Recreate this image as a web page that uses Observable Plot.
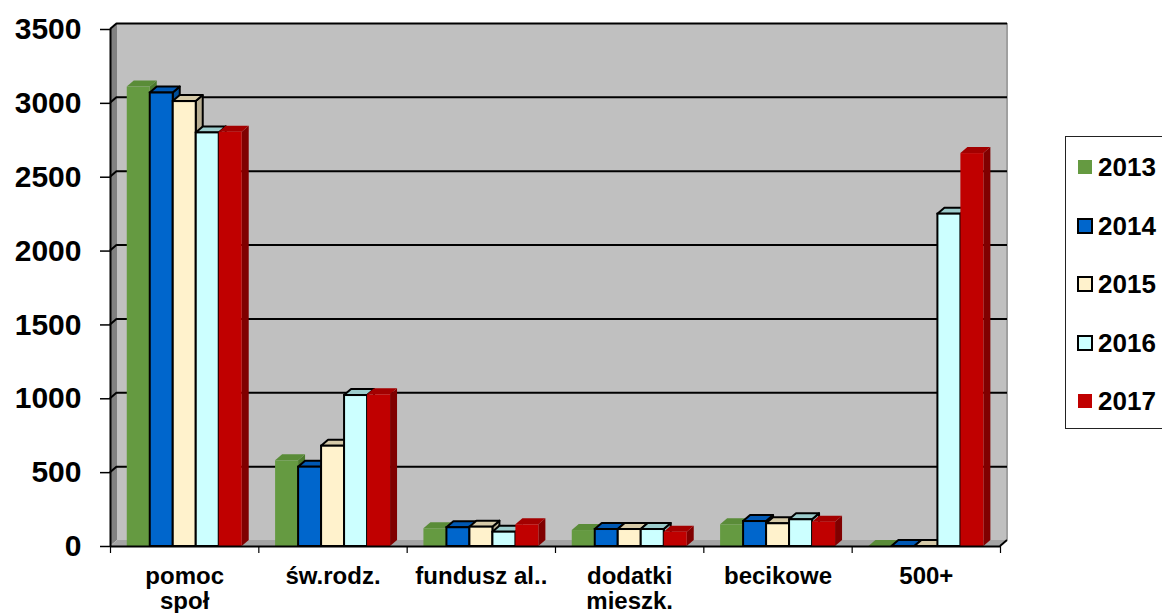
<!DOCTYPE html>
<html><head><meta charset="utf-8">
<script src="https://cdn.jsdelivr.net/npm/d3@7"></script>
<script src="https://cdn.jsdelivr.net/npm/@observablehq/plot@0.6"></script>
<style>
body{margin:0;background:#fff;font-family:Arial,"Liberation Sans",sans-serif;}
#wrap{position:relative;width:1162px;height:613px;overflow:hidden;}
#legend{position:absolute;left:1065px;top:136px;width:130px;height:293px;border:1.5px solid #222;box-sizing:border-box;background:#fff;}
.item{position:absolute;left:12px;display:flex;align-items:center;font-weight:bold;font-size:26px;line-height:1;color:#000;}
.sw{width:14px;height:14px;box-sizing:border-box;margin-right:6px;}
</style></head>
<body><div id="wrap"><div id="chart"></div><div id="legend"></div></div>
<script>
// ---- data ----
const categories = ["pomoc\nspoł", "św.rodz.", "fundusz al..", "dodatki\nmieszk.", "becikowe", "500+"];
const years = ["2013", "2014", "2015", "2016", "2017"];
const v2013 = [3110, 580, 120, 108, 147, 0];
const v2014 = [3070, 537, 127, 115, 169, 0];
const v2015 = [3012, 679, 131, 115, 154, 0];
const v2016 = [2800, 1022, 97, 115, 181, 2250];
const v2017 = [2805, 1027, 147, 97, 165, 2660];
const yTicks = [0, 500, 1000, 1500, 2000, 2500, 3000, 3500];

// ---- styles ----
const frontColors = ["#659a41", "#0066cc", "#fff2cc", "#ccffff", "#c00000"];
const topColors   = ["#5a8c38", "#0058b3", "#d6caa8", "#9ccccc", "#a30000"];
const sideColors  = ["#4c7a2e", "#004d99", "#b8ae92", "#8fbfbf", "#800000"];
const outlined    = [false, true, true, true, false];
const DX = 7, DY = -6;            // 3-D depth in pixels
const GROUP_OFFSET = 0.113, BAR_W = 0.155;

const series = [v2013, v2014, v2015, v2016, v2017];
const rows = [];
series.forEach((vals, j) => vals.forEach((v, i) => rows.push({
  category: categories[i], year: years[j], i, j, value: v,
  x1: i + GROUP_OFFSET + j * BAR_W, x2: i + GROUP_OFFSET + (j + 1) * BAR_W
})));

const walls = (index, {x, y}) => {
  const g = d3.create("svg:g");
  const L = x(0), R = x(categories.length), T = y(3500), B = y(0);
  g.append("rect").attr("x", L + DX).attr("y", T + DY).attr("width", R - L).attr("height", B - T).attr("fill", "#c0c0c0");
  g.append("path").attr("d", `M${L},${T}L${L + DX},${T + DY}L${L + DX},${B + DY}L${L},${B}Z`).attr("fill", "#808080");
  g.append("path").attr("d", `M${L},${B}L${L + DX},${B + DY}L${R + DX},${B + DY}L${R},${B}Z`).attr("fill", "#a4a4a4");
  yTicks.filter(v => v > 0).forEach(v =>
    g.append("path").attr("d", `M${L},${y(v)}l${DX},${DY}`).attr("stroke", "#000").attr("stroke-width", 2).attr("fill", "none"));
  g.append("line").attr("x1", R + DX).attr("x2", R + DX).attr("y1", T + DY).attr("y2", B + DY).attr("stroke", "#a0a0a0").attr("stroke-width", 2);
  return g.node();
};

const floorEdge = (index, {x, y}) => {
  const g = d3.create("svg:g");
  const R = x(categories.length), B = y(0);
  g.append("path").attr("d", `M${R},${B}l${DX},${DY}`).attr("stroke", "#000").attr("stroke-width", 2).attr("fill", "none");
  return g.node();
};

const faces = (j) => (index, {x, y}) => {
  const g = d3.create("svg:g");
  rows.filter(r => r.j === j).forEach(r => {
    const X1 = x(r.x1), X2 = x(r.x2), Y = y(r.value), Y0 = y(0);
    const st = outlined[j] ? "#000" : "none";
    g.append("path").attr("d", `M${X2},${Y}L${X2 + DX},${Y + DY}L${X2 + DX},${Y0 + DY}L${X2},${Y0}Z`)
      .attr("fill", sideColors[j]).attr("stroke", st).attr("stroke-width", 2).attr("stroke-linejoin", "round");
    g.append("path").attr("d", `M${X1},${Y}L${X1 + DX},${Y + DY}L${X2 + DX},${Y + DY}L${X2},${Y}Z`)
      .attr("fill", topColors[j]).attr("stroke", st).attr("stroke-width", 2).attr("stroke-linejoin", "round");
  });
  return g.node();
};

const marks = [walls, Plot.ruleY(yTicks.filter(v => v > 0), {dx: DX, dy: DY, stroke: "#000", strokeWidth: 2})];
years.forEach((yr, j) => {
  marks.push(faces(j));
  marks.push(Plot.rect(rows.filter(r => r.j === j), {
    x1: "x1", x2: "x2", y1: () => 0, y2: "value",
    fill: frontColors[j], stroke: outlined[j] ? "#000" : "none", strokeWidth: 2
  }));
});
marks.push(
  Plot.ruleX([0], {stroke: "#000", strokeWidth: 2}),
  Plot.ruleY([0], {stroke: "#000", strokeWidth: 2}),
  floorEdge,
  Plot.axisY({ticks: yTicks, tickSize: 10, tickPadding: 19, fontSize: 30, tickFormat: d3.format("d"), strokeWidth: 1.5, label: null}),
  Plot.axisX({ticks: d3.range(categories.length + 1), tickSize: 7, tickFormat: () => "", strokeWidth: 1.2, label: null}),
  Plot.axisX({ticks: d3.range(categories.length).map(i => i + 0.5), tickSize: 0, tickPadding: 20,
    fontSize: 24, lineHeight: 1.04, tickFormat: v => categories[Math.floor(v)], label: null})
);

const chart = Plot.plot({
  width: 1162, height: 613,
  marginLeft: 110, marginRight: 162, marginTop: 29, marginBottom: 67,
  x: {domain: [0, categories.length], axis: null},
  y: {domain: [0, 3500], axis: null},
  style: {fontFamily: 'Arial, "Liberation Sans", sans-serif', fontWeight: "bold", color: "#000", background: "transparent"},
  marks
});
document.getElementById("chart").appendChild(chart);

// legend
const legend = document.getElementById("legend");
const centers = [30, 89, 147, 206, 264];
years.forEach((yr, j) => {
  const it = document.createElement("div");
  it.className = "item";
  it.style.top = (centers[j] - 13) + "px";
  it.style.height = "26px";
  const sw = document.createElement("span");
  sw.className = "sw";
  sw.style.background = frontColors[j];
  if (outlined[j]) { sw.style.border = "2.5px solid #000"; sw.style.width = "16px"; sw.style.height = "16px"; sw.style.marginLeft = "-1px"; sw.style.marginRight = "5px"; }
  const tx = document.createElement("span");
  tx.textContent = yr;
  it.appendChild(sw); it.appendChild(tx);
  legend.appendChild(it);
});
</script>
</body></html>
